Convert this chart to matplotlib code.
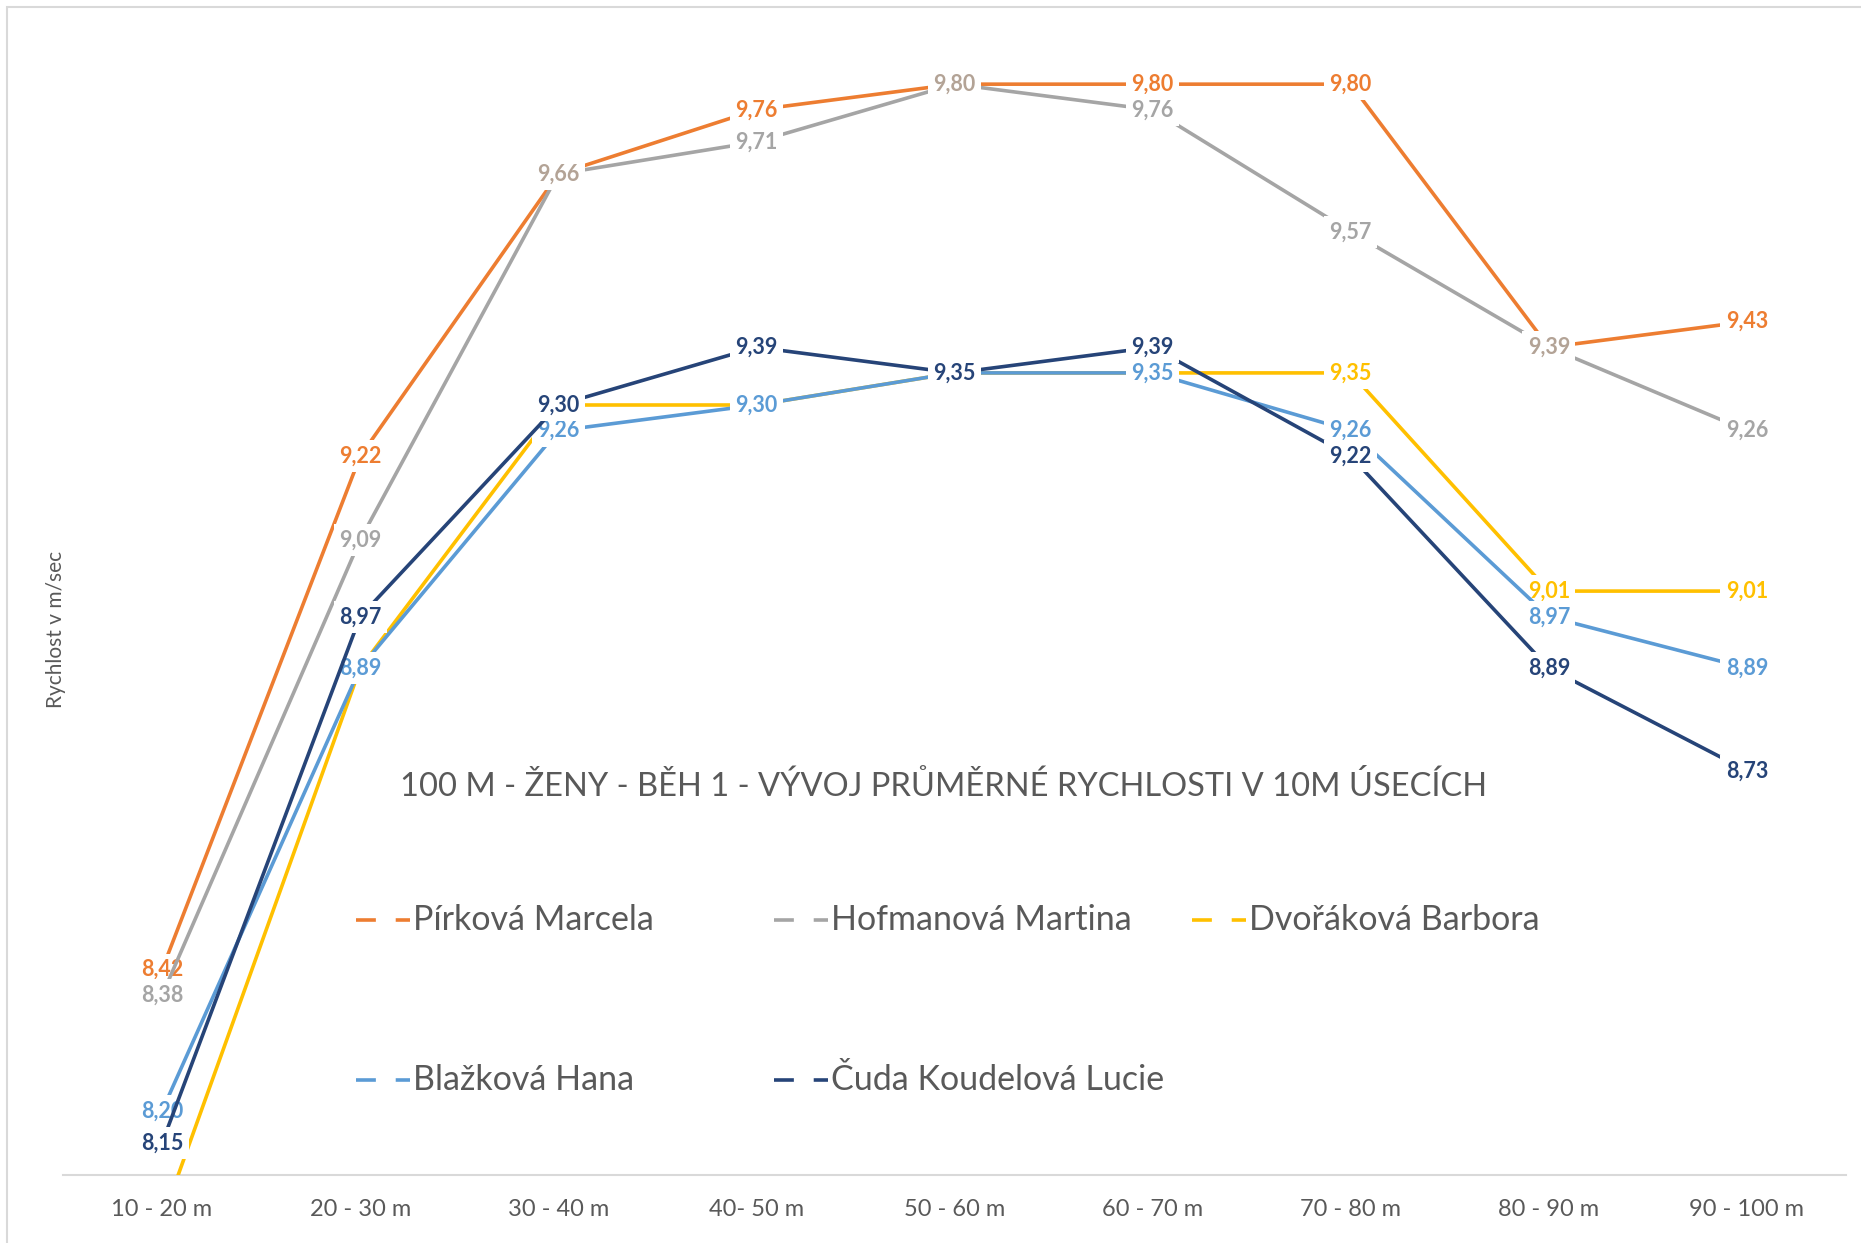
import numpy as np
import matplotlib
matplotlib.use('Agg')
import matplotlib.pyplot as plt
from matplotlib.lines import Line2D
from matplotlib.patches import Rectangle

plt.rcParams['font.family'] = ['Lato', 'DejaVu Sans']

# data
useky = ['10 - 20 m', '20 - 30 m', '30 - 40 m', '40- 50 m', '50 - 60 m',
         '60 - 70 m', '70 - 80 m', '80 - 90 m', '90 - 100 m']
jmena = ['Pírková Marcela', 'Hofmanová Martina', 'Dvořáková Barbora',
         'Blažková Hana', 'Čuda Koudelová Lucie']
pirkova = [8.42, 9.22, 9.66, 9.76, 9.80, 9.80, 9.80, 9.39, 9.43]
hofmanova = [8.38, 9.09, 9.66, 9.71, 9.80, 9.76, 9.57, 9.39, 9.26]
dvorakova = [8.03, 8.89, 9.30, 9.30, 9.35, 9.35, 9.35, 9.01, 9.01]
blazkova = [8.20, 8.89, 9.26, 9.30, 9.35, 9.35, 9.26, 8.97, 8.89]
cuda = [8.15, 8.97, 9.30, 9.39, 9.35, 9.39, 9.22, 8.89, 8.73]

serie = [pirkova, hofmanova, dvorakova, blazkova, cuda]
barvy = ['#ED7D31', '#A5A5A5', '#FFC000', '#5B9BD5', '#264478']
prekryv = '#B3A396'  # label colour where grey sits on orange

Y_MIN, Y_MAX = 8.1, 9.9

W, H = 1861, 1243
fig = plt.figure(figsize=(W / 100, H / 100), dpi=100)
fig.patches.append(Rectangle((7 / W, -0.1), 1.2, 1.1 - 7 / H, transform=fig.transFigure,
                             fill=False, edgecolor='#D9D9D9', linewidth=1.5))

ax = fig.add_axes([63 / W, 1 - 1175 / H, (1846 - 63) / W, (1175 - 20) / H])
x = np.arange(len(useky))

for i, (vals, col) in enumerate(zip(serie, barvy)):
    ax.plot(x, vals, color=col, lw=2.6, zorder=2 + 2 * i, solid_capstyle='butt')
    for j, v in enumerate(vals):
        if v < Y_MIN:
            continue  # label would sit below the axis, Excel hides it
        c = col
        if i == 1 and abs(v - pirkova[j]) < 1e-9:
            c = prekryv
        ax.text(j, v, f'{v:.2f}'.replace('.', ','), color=c, fontsize=15.5,
                fontweight='bold', ha='center', va='center', zorder=3 + 2 * i,
                bbox=dict(boxstyle='square,pad=0.25', fc='white', ec='none'))

ax.set_xlim(-0.5, len(useky) - 0.5)
ax.set_ylim(Y_MIN, Y_MAX)
ax.set_xticks(x)
ax.set_xticklabels(useky, fontsize=17, color='#595959')
ax.tick_params(axis='x', length=0, pad=17)
ax.set_yticks([])
for s in ['top', 'right', 'left']:
    ax.spines[s].set_visible(False)
ax.spines['bottom'].set_color('#D9D9D9')
ax.spines['bottom'].set_linewidth(1.5)

fig.text(56 / W, 1 - 629 / H, 'Rychlost v m/sec', rotation=90, fontsize=15,
         color='#595959', ha='center', va='center')

fig.text(944 / W, 1 - 787 / H,
         '100 M - ŽENY - BĚH 1 - VÝVOJ PRŮMĚRNÉ RYCHLOSTI V 10M ÚSECÍCH',
         fontsize=23.5, color='#595959', ha='center', va='center')

# legend, Excel style: 3 columns, 2 rows
for k, (jm, col) in enumerate(zip(jmena, barvy)):
    r, c = divmod(k, 3)
    lx = (356 + 418 * c) / W
    ly = 1 - (920 + 160 * r) / H
    fig.add_artist(Line2D([lx, lx + 54 / W], [ly, ly], color=col, lw=2.6,
                          linestyle=(0, (5.5, 5.5)), transform=fig.transFigure))
    fig.text(lx + 57 / W, ly, jm, fontsize=24.5, color='#595959', ha='left', va='center')

fig.savefig('out.png', dpi=100)
